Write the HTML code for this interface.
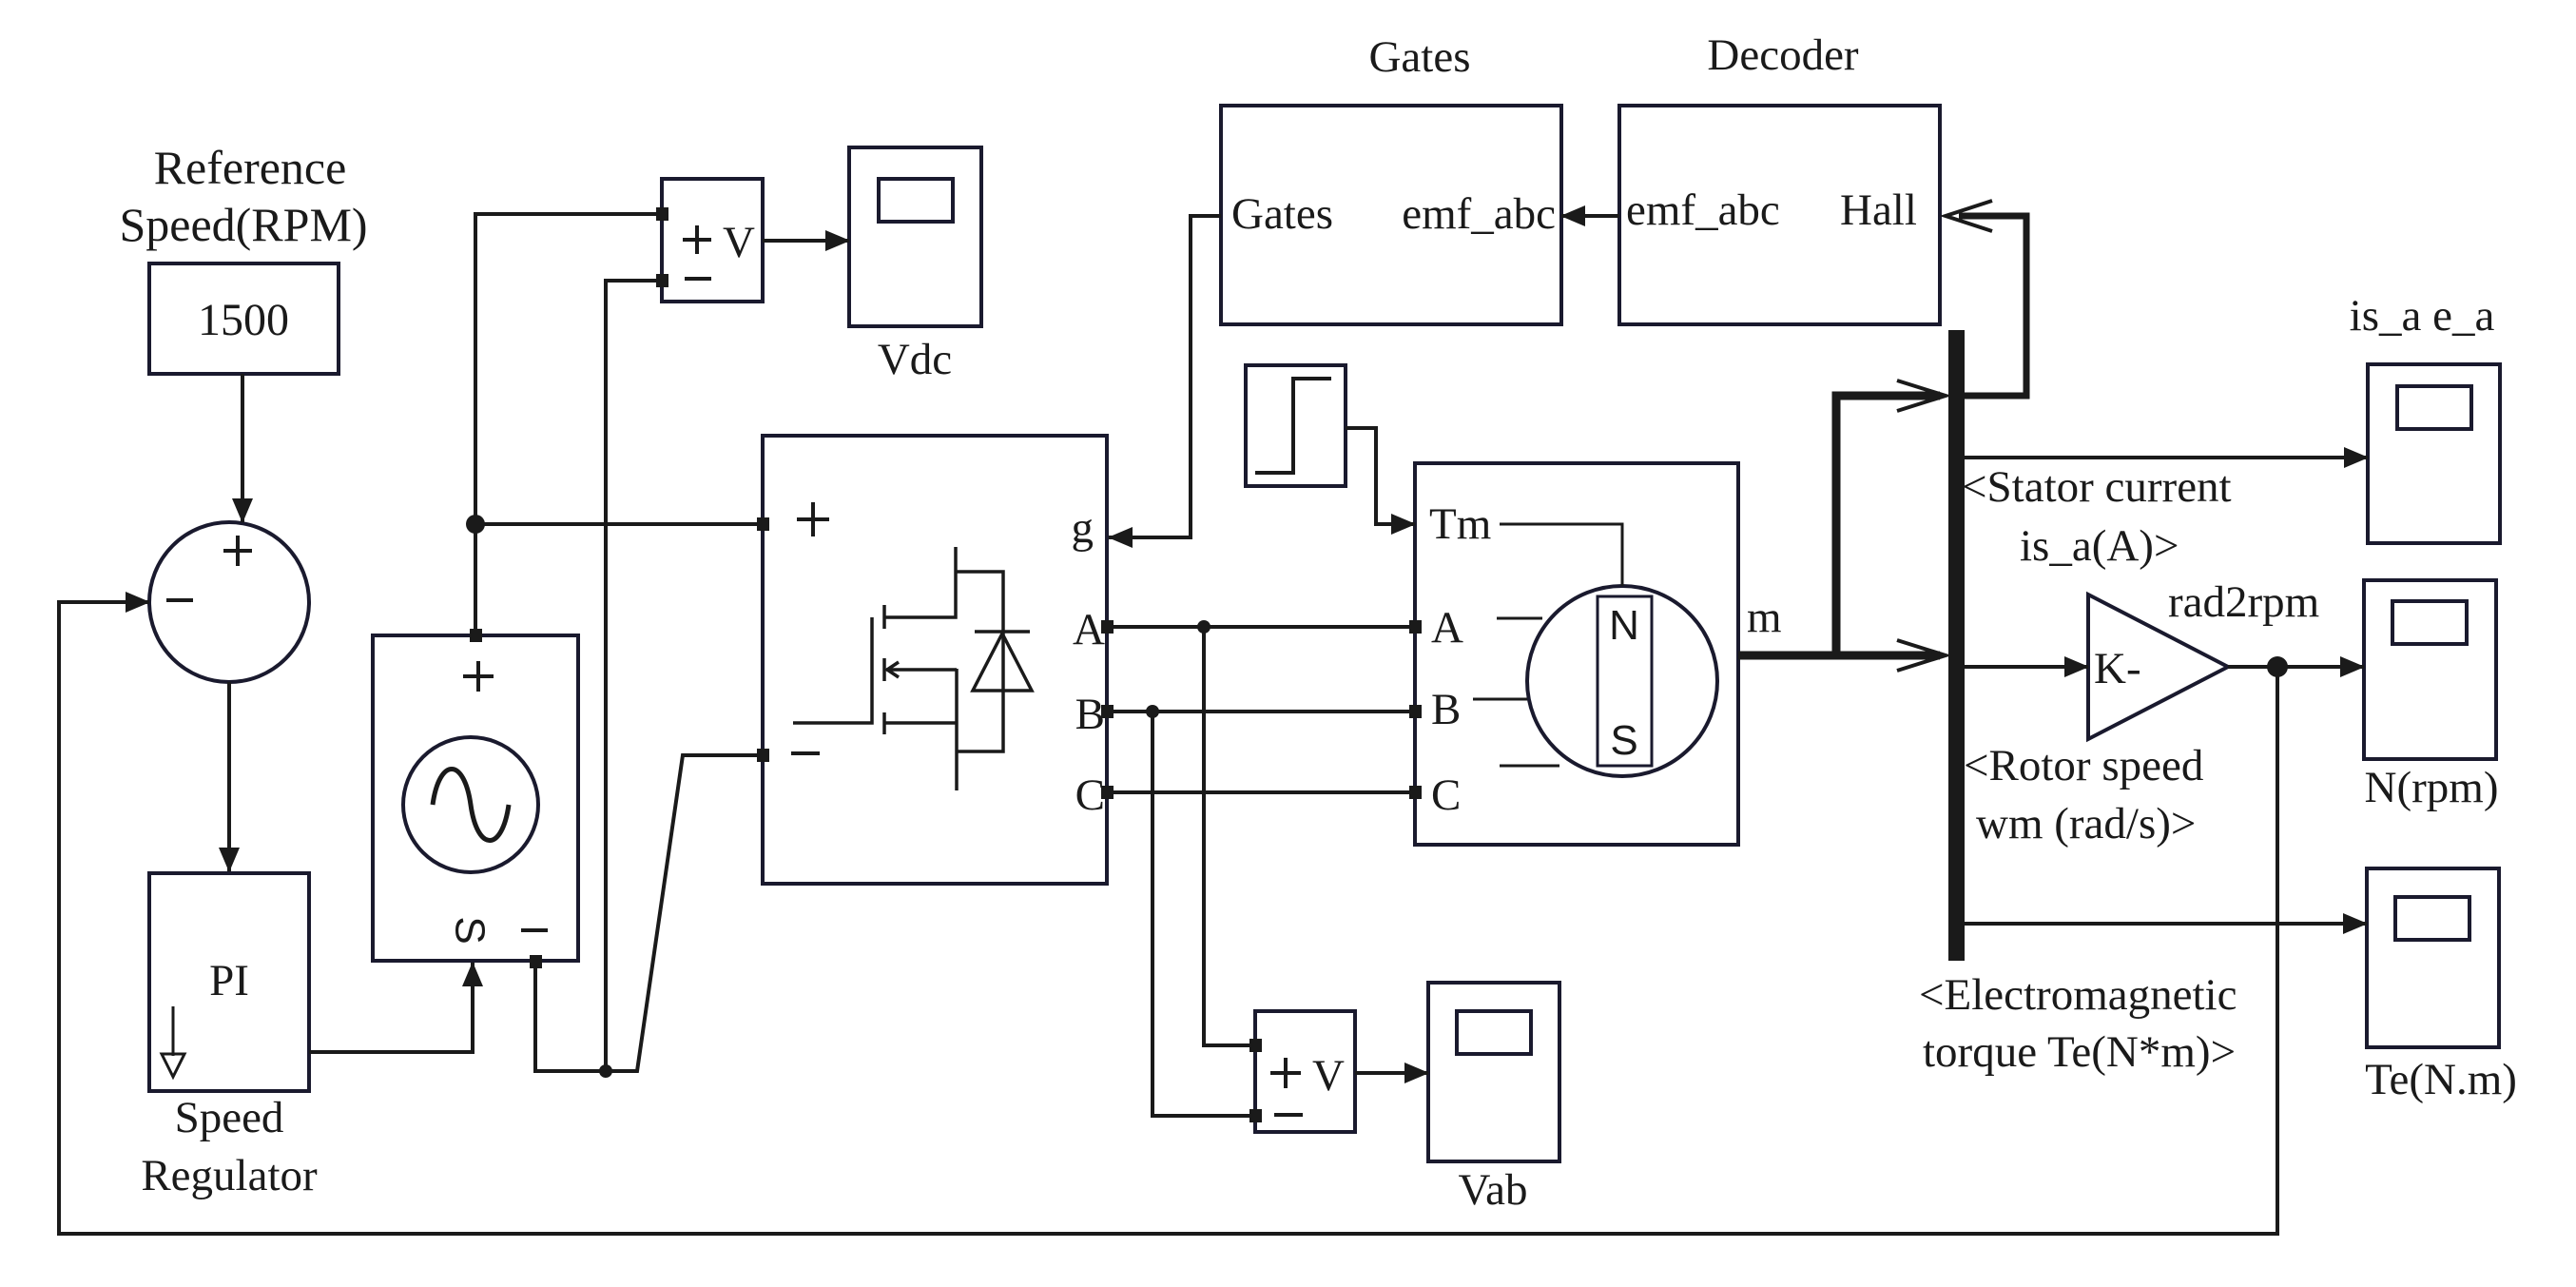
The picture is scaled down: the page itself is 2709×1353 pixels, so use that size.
<!DOCTYPE html>
<html><head><meta charset="utf-8"><style>
html,body{margin:0;padding:0;background:#fff;}
svg{display:block;}
text{font-family:"Liberation Serif",serif;fill:#1a1a1a;}
.s{font-family:"Liberation Sans",sans-serif;}
</style></head><body>
<svg width="2709" height="1353" viewBox="0 0 2709 1353" xmlns="http://www.w3.org/2000/svg">
<defs>
<marker id="a" markerWidth="26" markerHeight="22" refX="25" refY="11" orient="auto" markerUnits="userSpaceOnUse" viewBox="0 0 26 22"><path d="M0,0 L26,11 L0,22 z" fill="#1a1a1a"/></marker>
</defs>
<g fill="none" stroke="#1a1a1a" stroke-width="4">
<g stroke="#1a1a2e">
<rect x="157" y="277" width="199" height="116"/>
<circle cx="241" cy="633" r="84"/>
<rect x="157" y="918" width="168" height="229"/>
<rect x="392" y="668" width="216" height="342"/>
<circle cx="495" cy="846" r="71"/>
<rect x="696" y="188" width="106" height="129"/>
<rect x="893" y="155" width="139" height="188"/>
<rect x="924" y="188" width="78" height="45"/>
<rect x="802" y="458" width="362" height="471"/>
<rect x="1284" y="111" width="358" height="230"/>
<rect x="1703" y="111" width="337" height="230"/>
<rect x="1310" y="384" width="105" height="127"/>
<rect x="1488" y="487" width="340" height="401"/>
<circle cx="1706" cy="716" r="100"/>
<rect x="1680" y="627" width="57" height="178" stroke-width="3"/>
<rect x="1320" y="1063" width="105" height="127"/>
<rect x="1502" y="1033" width="138" height="188"/>
<rect x="1532" y="1063" width="78" height="45"/>
<rect x="2490" y="383" width="139" height="188"/>
<rect x="2521" y="406" width="78" height="45"/>
<rect x="2486" y="610" width="139" height="188"/>
<rect x="2516" y="632" width="78" height="45"/>
<rect x="2489" y="913" width="139" height="188"/>
<rect x="2519" y="943" width="78" height="45"/>
<polygon points="2196,625 2343,701 2196,777"/>
</g>
<path d="M455,846 C462,796 488,796 495,846 C502,896 528,896 535,846" stroke-width="5"/>
<path d="M1320,497 L1360,497 L1360,398 L1400,398"/>
<line x1="255" y1="393" x2="255" y2="549" marker-end="url(#a)"/>
<line x1="241" y1="717" x2="241" y2="916" marker-end="url(#a)"/>
<path d="M2395,701 L2395,1297 L62,1297 L62,633 L157,633" marker-end="url(#a)"/>
<path d="M325,1106 L497,1106 L497,1012" marker-end="url(#a)"/>
<path d="M500,668 L500,225 L696,225"/>
<line x1="500" y1="551" x2="802" y2="551"/>
<path d="M563,1010 L563,1126 L670,1126 L718,794 L802,794"/>
<path d="M637,1126 L637,295 L696,295"/>
<line x1="802" y1="253" x2="893" y2="253" marker-end="url(#a)"/>
<path d="M1284,227 L1252,227 L1252,565 L1166,565" marker-end="url(#a)"/>
<line x1="1703" y1="227" x2="1642" y2="227" marker-end="url(#a)"/>
<path d="M1415,450 L1447,450 L1447,551 L1488,551" marker-end="url(#a)"/>
<line x1="1164" y1="659" x2="1488" y2="659"/>
<line x1="1164" y1="748" x2="1488" y2="748"/>
<line x1="1164" y1="833" x2="1488" y2="833"/>
<path d="M1266,659 L1266,1099 L1320,1099"/>
<path d="M1212,748 L1212,1173 L1320,1173"/>
<line x1="1425" y1="1128" x2="1502" y2="1128" marker-end="url(#a)"/>
<path d="M1577,551 L1706,551 L1706,616" stroke-width="3"/>
<line x1="1574" y1="650" x2="1622" y2="650" stroke-width="3"/>
<line x1="1549" y1="735" x2="1606" y2="735" stroke-width="3"/>
<line x1="1577" y1="805" x2="1640" y2="805" stroke-width="3"/>
<g stroke-width="9">
<path d="M1828,689 L2040,689"/>
<path d="M1931,689 L1931,416 L2040,416"/>
<path d="M2065,416 L2131,416 L2131,227 L2060,227" stroke-width="7"/>
</g>
<path d="M1995,400 L2046,416 L1995,432" stroke-width="4"/>
<path d="M1995,673 L2046,689 L1995,705" stroke-width="4"/>
<path d="M2095,211 L2046,227 L2095,243" stroke-width="4"/>
<line x1="2065" y1="481" x2="2490" y2="481" marker-end="url(#a)"/>
<line x1="2065" y1="701" x2="2196" y2="701" marker-end="url(#a)"/>
<line x1="2343" y1="701" x2="2486" y2="701" marker-end="url(#a)"/>
<line x1="2065" y1="971" x2="2489" y2="971" marker-end="url(#a)"/>
<path d="M1005,575 L1005,649 L930,649" stroke-width="3.5"/>
<path d="M1005,601 L1055,601 L1055,790 L1006,790" stroke-width="3.5"/>
<line x1="1006" y1="703" x2="1006" y2="831" stroke-width="3.5"/>
<line x1="932" y1="704" x2="1006" y2="704" stroke-width="3.5"/>
<line x1="930" y1="760" x2="1006" y2="760" stroke-width="3.5"/>
<line x1="930" y1="636" x2="930" y2="661" stroke-width="3.5"/>
<line x1="930" y1="692" x2="930" y2="716" stroke-width="3.5"/>
<line x1="930" y1="749" x2="930" y2="772" stroke-width="3.5"/>
<path d="M945,696 L933,704 L945,712" stroke-width="3.5"/>
<path d="M917,649 L917,760 L834,760" stroke-width="3.5"/>
<line x1="1025" y1="664" x2="1083" y2="664" stroke-width="3.5"/>
<polygon points="1023,726 1085,726 1054,666" stroke-width="3.5"/>
<line x1="182" y1="1058" x2="182" y2="1110" stroke-width="3"/>
<polygon points="170,1108 194,1108 182,1132" stroke-width="3"/>
<path d="M235,579 L265,579 M250,563 L250,595" />
<line x1="175" y1="631" x2="203" y2="631"/>
<path d="M487,711 L519,711 M503,695 L503,727"/>
<line x1="548" y1="978" x2="576" y2="978"/>
<path d="M718,252 L748,252 M733,237 L733,267"/>
<line x1="720" y1="293" x2="748" y2="293"/>
<path d="M838,546 L872,546 M855,528 L855,564"/>
<line x1="832" y1="792" x2="862" y2="792"/>
<path d="M1336,1128 L1368,1128 M1352,1112 L1352,1144"/>
<line x1="1340" y1="1172" x2="1370" y2="1172"/>
</g>
<rect x="2049" y="347" width="17" height="663" fill="#1a1a1a"/>
<g fill="#1a1a1a">
<circle cx="500" cy="551" r="10"/>
<circle cx="637" cy="1126" r="7"/>
<circle cx="1266" cy="659" r="7"/>
<circle cx="1212" cy="748" r="7"/>
<circle cx="2395" cy="701" r="11"/>
<rect x="690" y="218" width="13" height="14"/><rect x="690" y="288" width="13" height="14"/>
<rect x="796" y="544" width="13" height="14"/><rect x="796" y="787" width="13" height="14"/>
<rect x="1158" y="652" width="13" height="14"/><rect x="1158" y="741" width="13" height="14"/><rect x="1158" y="826" width="13" height="14"/>
<rect x="1482" y="652" width="13" height="14"/><rect x="1482" y="741" width="13" height="14"/><rect x="1482" y="826" width="13" height="14"/>
<rect x="494" y="661" width="13" height="14"/><rect x="557" y="1004" width="13" height="14"/>
<rect x="1314" y="1092" width="13" height="14"/><rect x="1314" y="1166" width="13" height="14"/>
</g>
<g font-size="47">
<text x="263" y="193" text-anchor="middle" font-size="50">Reference</text>
<text x="256" y="253" text-anchor="middle" font-size="50">Speed(RPM)</text>
<text x="256" y="352" text-anchor="middle" font-size="48">1500</text>
<text x="241" y="1046" text-anchor="middle">PI</text>
<text x="241" y="1190" text-anchor="middle">Speed</text>
<text x="241" y="1251" text-anchor="middle">Regulator</text>
<text x="962" y="393" text-anchor="middle">Vdc</text>
<text x="760" y="270">V</text>
<text x="1380" y="1146">V</text>
<text x="1570" y="1266" text-anchor="middle">Vab</text>
<text x="1493" y="75" text-anchor="middle">Gates</text>
<text x="1875" y="73" text-anchor="middle">Decoder</text>
<text x="1295" y="240">Gates</text>
<text x="1636" y="240" text-anchor="end">emf_abc</text>
<text x="1710" y="236">emf_abc</text>
<text x="1935" y="236">Hall</text>
<text x="1150" y="570" text-anchor="end">g</text>
<text x="1162" y="677" text-anchor="end">A</text>
<text x="1162" y="766" text-anchor="end">B</text>
<text x="1162" y="851" text-anchor="end">C</text>
<text x="1503" y="566">Tm</text>
<text x="1505" y="675">A</text>
<text x="1505" y="761">B</text>
<text x="1505" y="851">C</text>
<text x="1837" y="664">m</text>
<text x="2547" y="347" text-anchor="middle">is_a e_a</text>
<text x="2063" y="527">&lt;Stator current</text>
<text x="2124" y="589">is_a(A)&gt;</text>
<text x="2280" y="648">rad2rpm</text>
<text x="2202" y="718">K-</text>
<text x="2065" y="820">&lt;Rotor speed</text>
<text x="2078" y="881">wm (rad/s)&gt;</text>
<text x="2018" y="1061">&lt;Electromagnetic</text>
<text x="2022" y="1121">torque Te(N*m)&gt;</text>
<text x="2557" y="843" text-anchor="middle">N(rpm)</text>
<text x="2567" y="1150" text-anchor="middle">Te(N.m)</text>
</g>
<g class="s" font-size="44">
<text class="s" x="1708" y="672" text-anchor="middle">N</text>
<text class="s" x="1708" y="793" text-anchor="middle">S</text>
<text class="s" x="494" y="978" text-anchor="middle" dominant-baseline="central" transform="rotate(90 494 978)">S</text>
</g>
</svg>
</body></html>
